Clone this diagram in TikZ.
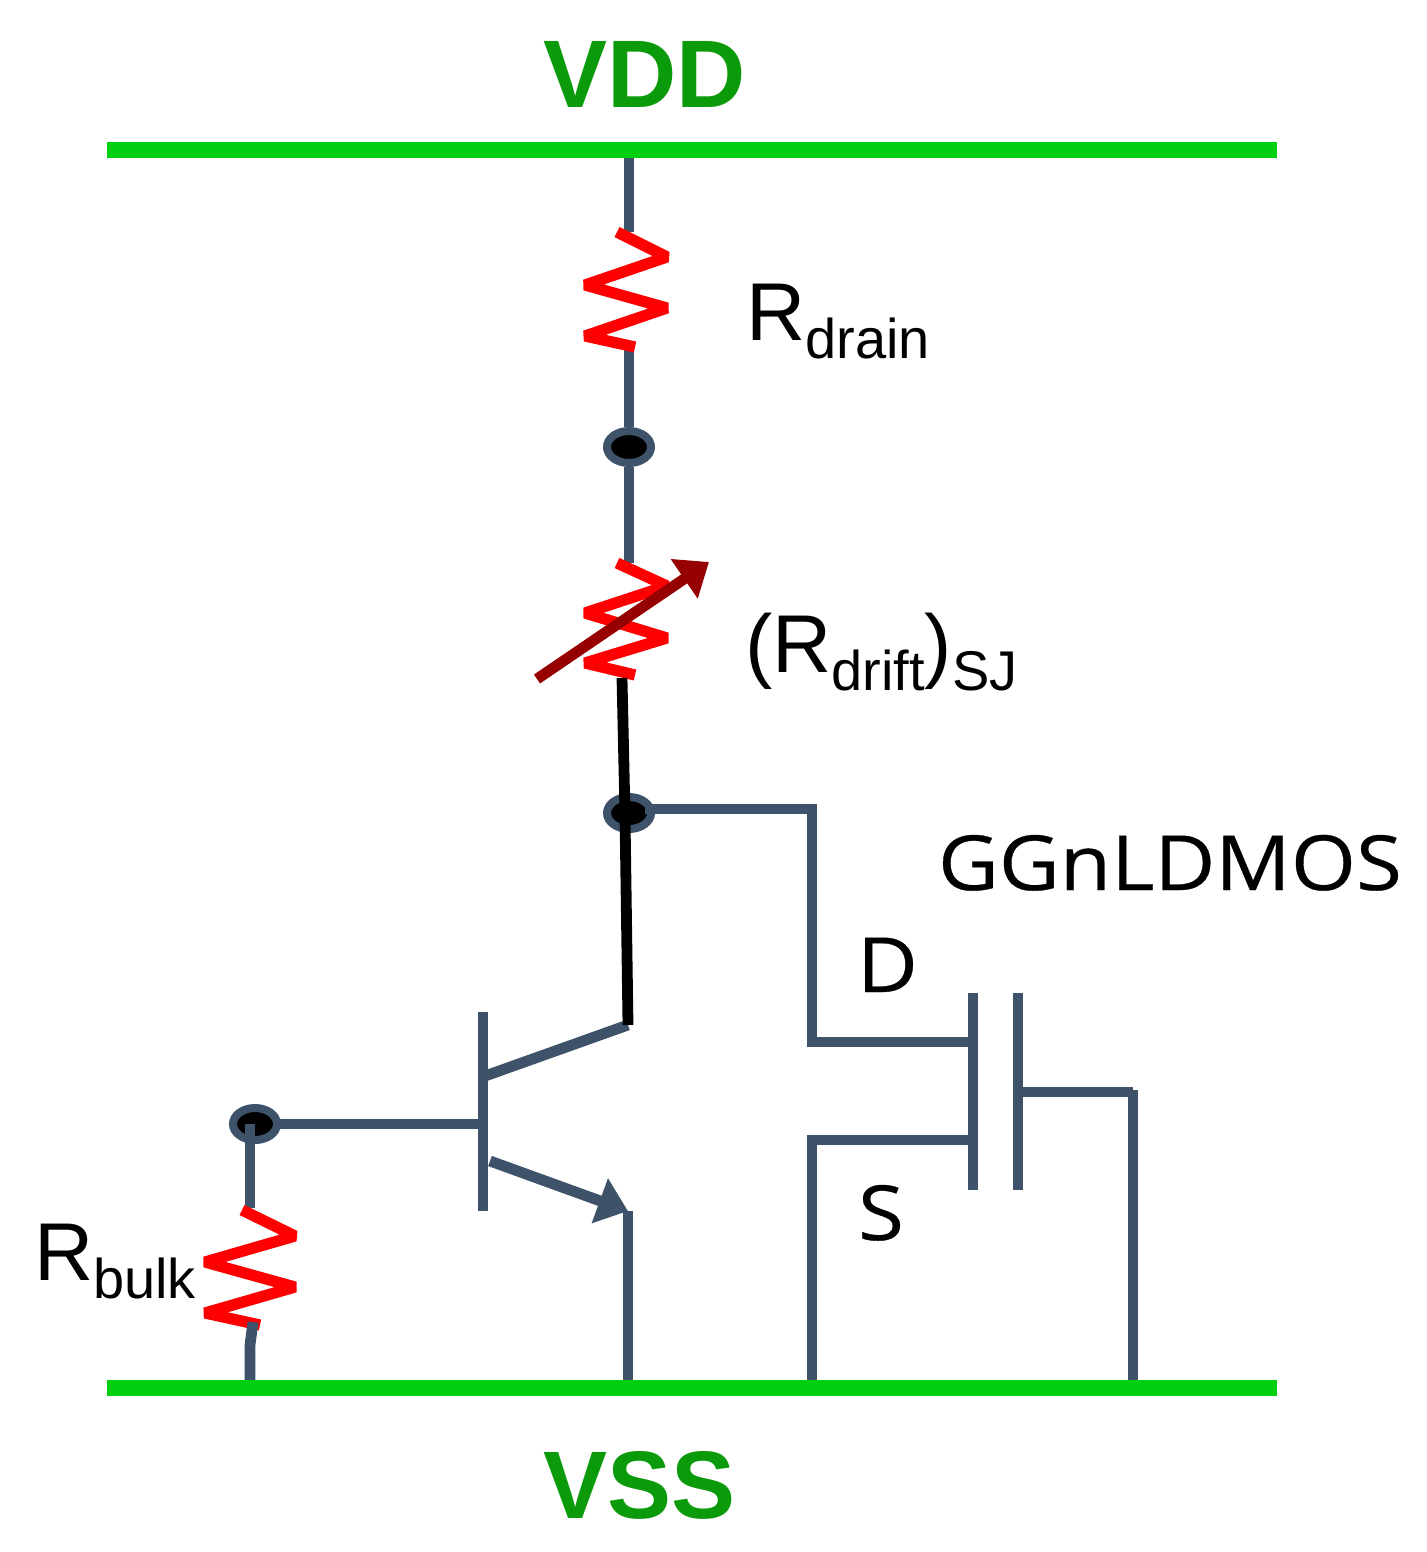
\documentclass[tikz,border=0pt]{standalone}
\usepackage{fontspec}
\setmainfont{Liberation Sans}
\newfontfamily\osfont[FakeStretch=1.1,FakeBold=0.4]{Open Sans}
\usetikzlibrary{arrows.meta,shapes.geometric}
\definecolor{wireblue}{HTML}{3E5369}
\definecolor{railgreen}{HTML}{00D010}
\definecolor{labelgreen}{HTML}{0A9A0A}
\definecolor{arrowred}{HTML}{960000}
\newcommand{\fsz}[1]{\fontsize{#1}{#1}\selectfont}
\newcommand{\subtxt}[1]{\raisebox{-9pt}{\fsz{28}#1}}
\tikzset{
  x=0.5pt,y=-0.5pt,
  rail/.style={draw=railgreen,line width=8pt},
  wire/.style={draw=wireblue,line width=5.4pt},
  blackwire/.style={draw=black,line width=5.4pt},
  res/.style={draw=red,line width=5.6pt,line join=bevel},
  junction/.style={ellipse,draw=wireblue,fill=black,line width=4pt,minimum width=22pt,minimum height=16pt,inner sep=0pt},
  tiparrow/.style={-{Triangle[length=15pt,width=23pt]}},
  lbl/.style={anchor=base west,inner sep=0pt,outer sep=0pt},
  railname/.style={lbl,text=labelgreen,font=\bfseries\fsz{48}},
  sans/.style={lbl,font=\fsz{41}},
  os/.style={lbl,font=\osfont\fsz{38}}
}
\begin{document}
\begin{tikzpicture}
\useasboundingbox (0,0) rectangle (1427,1552);
\fill[white] (0,0) rectangle (1427,1552);

% anchors on rails
\coordinate (vddL) at (107,150);
\coordinate (vddR) at (1277,150);
\coordinate (vssL) at (107,1388);
\coordinate (vssR) at (1277,1388);
\coordinate (vddT) at (629,150);
\coordinate (r1T) at (629,232);
\coordinate (r1B) at (629,350);
\coordinate (r2T) at (629,563);
\coordinate (r2B) at (622,678);
\coordinate (kink) at (625,815);
\coordinate (colE) at (628,1025);
\coordinate (colS) at (485,1076);
\coordinate (emS) at (490,1161);
\coordinate (emE) at (628,1211);
\coordinate (emG) at (628,1385);
\coordinate (bjtT) at (483,1012);
\coordinate (bjtB) at (483,1211);
\coordinate (bjtM) at (483,1124);
\coordinate (rbT) at (250,1208);
\coordinate (rbB) at (253,1322);
\coordinate (rbK) at (250,1345);
\coordinate (rbG) at (250,1385);
\coordinate (dT) at (812,809);
\coordinate (dB) at (812,1042);
\coordinate (dG) at (973,1042);
\coordinate (sT) at (812,1140);
\coordinate (sG) at (973,1140);
\coordinate (sB) at (812,1385);
\coordinate (mT1) at (973,993);
\coordinate (mB1) at (973,1190);
\coordinate (mT2) at (1018,993);
\coordinate (mB2) at (1018,1190);
\coordinate (gS) at (1018,1092);
\coordinate (gE) at (1133,1092);
\coordinate (gB) at (1133,1385);
\coordinate (arS) at (537,679);
\coordinate (arE) at (709,562);

% junctions
\node[junction] (j1) at (629,447) {};
\node[junction] (j2) at (629,813) {};
\node[junction] (j3) at (255,1124) {};

% wires
\draw[wire] (vddT) -- (r1T);
\draw[wire] (r1B) -- (j1);
\draw[wire] (j1) -- (r2T);
\draw[wire] ([xshift=-5pt]j2.east |- dT) -- (dT) -- (dB) -- (dG);
\draw[wire] (sG) -- (sT) -- (sB);
\draw[wire] (mT1) -- (mB1);
\draw[wire] (mT2) -- (mB2);
\draw[wire] (gS) -- (gE);
\draw[wire] (1133,1090) -- (gB);
\draw[wire] (bjtT) -- (bjtB);
\draw[wire] (colS) -- (colE);
\draw[wire] ([xshift=-3pt]j3.east) -- (bjtM);
\draw[wire] (250,1124) -- (rbT);
\draw[wire] (emE) -- (emG);
\draw[wire,tiparrow] (emS) -- (emE);

% resistors
\draw[res] (617,232) -- (667,257) -- (585,285) -- (667,308) -- (585,336) -- (635,347);
\draw[res] (617,563) -- (667,586) -- (585,613) -- (667,638) -- (585,663) -- (635,675);
\draw[res] (242,1210) -- (295,1236) -- (205,1262) -- (295,1287) -- (205,1313) -- (260,1325);
\draw[wire] (rbB) -- (rbK) -- (rbG);

% black branch
\draw[blackwire] (r2B) -- (kink) -- (colE);

% variable arrow
\draw[draw=arrowred,line width=5.4pt,tiparrow,arrowred] (arS) -- (arE);

% rails
\draw[rail] (vddL) -- (vddR);
\draw[rail] (vssL) -- (vssR);

% labels
\node[railname] (vdd) at (543,108) {VDD};
\node[railname] (vss) at (543,1518) {VSS};
\node[sans] (rdrain) at (746,340) {R\subtxt{drain}};
\node[sans] (rdrift) at (745,672) {(R\subtxt{drift})\subtxt{SJ}};
\node[sans] (rbulk) at (34,1280) {R\subtxt{bulk}};
\node[os] (ggn) at (938,890) {GGnLDMOS};
\node[os] (dl) at (857,992) {D};
\node[os] (sl) at (858,1240) {S};
\end{tikzpicture}
\end{document}
